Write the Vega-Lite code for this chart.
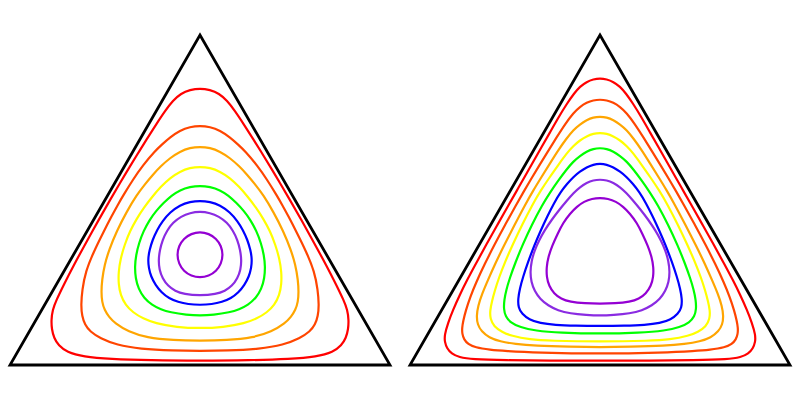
{
"$schema":"https://vega.github.io/schema/vega-lite/v6.json",
"background":"white",
"padding":{"left":4,"right":4,"top":29,"bottom":29},
"bounds":"flush",
"spacing":20,
"config":{"view":{"stroke":null}},
"data":{"values":[
{"p":"L","c":0,"x":-190,"y":0},{"p":"L","c":0,"x":190,"y":0},{"p":"L","c":0,"x":0,"y":330},
{"p":"R","c":0,"x":-190,"y":0},{"p":"R","c":0,"x":190,"y":0},{"p":"R","c":0,"x":0,"y":330},
{"p":"L","c":1,"x":0,"y":276.7},{"p":"L","c":1,"x":-10,"y":275.2},{"p":"L","c":1,"x":-19,"y":271.5},{"p":"L","c":1,"x":-27,"y":264.5},{"p":"L","c":1,"x":-35,"y":254},{"p":"L","c":1,"x":-43.6,"y":241},{"p":"L","c":1,"x":-53.2,"y":226},{"p":"L","c":1,"x":-62.8,"y":210.5},{"p":"L","c":1,"x":-72.2,"y":195},{"p":"L","c":1,"x":-79.4,"y":183},{"p":"L","c":1,"x":-90,"y":165},{"p":"L","c":1,"x":-101.4,"y":145},{"p":"L","c":1,"x":-115.3,"y":120},{"p":"L","c":1,"x":-126.1,"y":100},{"p":"L","c":1,"x":-136.4,"y":80},{"p":"L","c":1,"x":-143.6,"y":65},{"p":"L","c":1,"x":-147.5,"y":55},{"p":"L","c":1,"x":-148.7,"y":45},{"p":"L","c":1,"x":-148.3,"y":36},{"p":"L","c":1,"x":-146,"y":27},{"p":"L","c":1,"x":-141.5,"y":19.5},{"p":"L","c":1,"x":-133.3,"y":13},{"p":"L","c":1,"x":-116.7,"y":8.3},{"p":"L","c":1,"x":-90,"y":6},{"p":"L","c":1,"x":-50,"y":4.7},{"p":"L","c":1,"x":0,"y":4.3},{"p":"L","c":1,"x":50,"y":4.7},{"p":"L","c":1,"x":90,"y":6},{"p":"L","c":1,"x":116.7,"y":8.3},{"p":"L","c":1,"x":133.3,"y":13},{"p":"L","c":1,"x":141.5,"y":19.5},{"p":"L","c":1,"x":146,"y":27},{"p":"L","c":1,"x":148.3,"y":36},{"p":"L","c":1,"x":148.7,"y":45},{"p":"L","c":1,"x":147.5,"y":55},{"p":"L","c":1,"x":143.6,"y":65},{"p":"L","c":1,"x":136.4,"y":80},{"p":"L","c":1,"x":126.1,"y":100},{"p":"L","c":1,"x":115.3,"y":120},{"p":"L","c":1,"x":101.4,"y":145},{"p":"L","c":1,"x":90,"y":165},{"p":"L","c":1,"x":79.4,"y":183},{"p":"L","c":1,"x":72.2,"y":195},{"p":"L","c":1,"x":62.8,"y":210.5},{"p":"L","c":1,"x":53.2,"y":226},{"p":"L","c":1,"x":43.6,"y":241},{"p":"L","c":1,"x":35,"y":254},{"p":"L","c":1,"x":27,"y":264.5},{"p":"L","c":1,"x":19,"y":271.5},{"p":"L","c":1,"x":10,"y":275.2},
{"p":"L","c":2,"x":0,"y":239.3},{"p":"L","c":2,"x":-10,"y":238.2},{"p":"L","c":2,"x":-20,"y":234.5},{"p":"L","c":2,"x":-30,"y":227.7},{"p":"L","c":2,"x":-38,"y":220.5},{"p":"L","c":2,"x":-45,"y":214},{"p":"L","c":2,"x":-56.9,"y":200},{"p":"L","c":2,"x":-67.3,"y":185},{"p":"L","c":2,"x":-76.5,"y":170},{"p":"L","c":2,"x":-82.3,"y":160},{"p":"L","c":2,"x":-88.3,"y":149},{"p":"L","c":2,"x":-96.4,"y":133.3},{"p":"L","c":2,"x":-106.3,"y":113.3},{"p":"L","c":2,"x":-114.5,"y":93.3},{"p":"L","c":2,"x":-117.8,"y":75},{"p":"L","c":2,"x":-119,"y":60},{"p":"L","c":2,"x":-118,"y":49},{"p":"L","c":2,"x":-115,"y":40},{"p":"L","c":2,"x":-110,"y":33.5},{"p":"L","c":2,"x":-100,"y":26.7},{"p":"L","c":2,"x":-83.3,"y":20},{"p":"L","c":2,"x":-60,"y":16},{"p":"L","c":2,"x":-26.7,"y":14.3},{"p":"L","c":2,"x":0,"y":14},{"p":"L","c":2,"x":26.7,"y":14.3},{"p":"L","c":2,"x":60,"y":16},{"p":"L","c":2,"x":83.3,"y":20},{"p":"L","c":2,"x":100,"y":26.7},{"p":"L","c":2,"x":110,"y":33.5},{"p":"L","c":2,"x":115,"y":40},{"p":"L","c":2,"x":118,"y":49},{"p":"L","c":2,"x":119,"y":60},{"p":"L","c":2,"x":117.8,"y":75},{"p":"L","c":2,"x":114.5,"y":93.3},{"p":"L","c":2,"x":106.3,"y":113.3},{"p":"L","c":2,"x":96.4,"y":133.3},{"p":"L","c":2,"x":88.3,"y":149},{"p":"L","c":2,"x":82.3,"y":160},{"p":"L","c":2,"x":76.5,"y":170},{"p":"L","c":2,"x":67.3,"y":185},{"p":"L","c":2,"x":56.9,"y":200},{"p":"L","c":2,"x":45,"y":214},{"p":"L","c":2,"x":38,"y":220.5},{"p":"L","c":2,"x":30,"y":227.7},{"p":"L","c":2,"x":20,"y":234.5},{"p":"L","c":2,"x":10,"y":238.2},
{"p":"L","c":3,"x":0,"y":218.3},{"p":"L","c":3,"x":-10,"y":217.3},{"p":"L","c":3,"x":-20,"y":213.5},{"p":"L","c":3,"x":-30,"y":207},{"p":"L","c":3,"x":-39,"y":199},{"p":"L","c":3,"x":-47,"y":190.5},{"p":"L","c":3,"x":-55,"y":180.8},{"p":"L","c":3,"x":-63.3,"y":170},{"p":"L","c":3,"x":-73.3,"y":153.3},{"p":"L","c":3,"x":-83.3,"y":134},{"p":"L","c":3,"x":-91,"y":115},{"p":"L","c":3,"x":-95.5,"y":100},{"p":"L","c":3,"x":-98,"y":85},{"p":"L","c":3,"x":-98.7,"y":73},{"p":"L","c":3,"x":-98,"y":63},{"p":"L","c":3,"x":-95.5,"y":55},{"p":"L","c":3,"x":-91,"y":48},{"p":"L","c":3,"x":-85,"y":41.7},{"p":"L","c":3,"x":-71.7,"y":33.3},{"p":"L","c":3,"x":-53.3,"y":27.3},{"p":"L","c":3,"x":-26.7,"y":24.7},{"p":"L","c":3,"x":0,"y":24.3},{"p":"L","c":3,"x":26.7,"y":24.7},{"p":"L","c":3,"x":53.3,"y":27.3},{"p":"L","c":3,"x":71.7,"y":33.3},{"p":"L","c":3,"x":85,"y":41.7},{"p":"L","c":3,"x":91,"y":48},{"p":"L","c":3,"x":95.5,"y":55},{"p":"L","c":3,"x":98,"y":63},{"p":"L","c":3,"x":98.7,"y":73},{"p":"L","c":3,"x":98,"y":85},{"p":"L","c":3,"x":95.5,"y":100},{"p":"L","c":3,"x":91,"y":115},{"p":"L","c":3,"x":83.3,"y":134},{"p":"L","c":3,"x":73.3,"y":153.3},{"p":"L","c":3,"x":63.3,"y":170},{"p":"L","c":3,"x":55,"y":180.8},{"p":"L","c":3,"x":47,"y":190.5},{"p":"L","c":3,"x":39,"y":199},{"p":"L","c":3,"x":30,"y":207},{"p":"L","c":3,"x":20,"y":213.5},{"p":"L","c":3,"x":10,"y":217.3},
{"p":"L","c":4,"x":0,"y":198.3},{"p":"L","c":4,"x":-10,"y":197.3},{"p":"L","c":4,"x":-20,"y":193.5},{"p":"L","c":4,"x":-30,"y":187},{"p":"L","c":4,"x":-39,"y":178.5},{"p":"L","c":4,"x":-48,"y":168},{"p":"L","c":4,"x":-56,"y":157.5},{"p":"L","c":4,"x":-63.5,"y":146},{"p":"L","c":4,"x":-70,"y":134},{"p":"L","c":4,"x":-75.5,"y":120},{"p":"L","c":4,"x":-79.5,"y":106},{"p":"L","c":4,"x":-81.5,"y":93},{"p":"L","c":4,"x":-81.5,"y":81},{"p":"L","c":4,"x":-79.5,"y":70},{"p":"L","c":4,"x":-74.5,"y":60},{"p":"L","c":4,"x":-67,"y":52.5},{"p":"L","c":4,"x":-57,"y":46.5},{"p":"L","c":4,"x":-45,"y":41.8},{"p":"L","c":4,"x":-23.3,"y":37.7},{"p":"L","c":4,"x":0,"y":36.7},{"p":"L","c":4,"x":23.3,"y":37.7},{"p":"L","c":4,"x":45,"y":41.8},{"p":"L","c":4,"x":57,"y":46.5},{"p":"L","c":4,"x":67,"y":52.5},{"p":"L","c":4,"x":74.5,"y":60},{"p":"L","c":4,"x":79.5,"y":70},{"p":"L","c":4,"x":81.5,"y":81},{"p":"L","c":4,"x":81.5,"y":93},{"p":"L","c":4,"x":79.5,"y":106},{"p":"L","c":4,"x":75.5,"y":120},{"p":"L","c":4,"x":70,"y":134},{"p":"L","c":4,"x":63.5,"y":146},{"p":"L","c":4,"x":56,"y":157.5},{"p":"L","c":4,"x":48,"y":168},{"p":"L","c":4,"x":39,"y":178.5},{"p":"L","c":4,"x":30,"y":187},{"p":"L","c":4,"x":20,"y":193.5},{"p":"L","c":4,"x":10,"y":197.3},
{"p":"L","c":5,"x":0,"y":179.3},{"p":"L","c":5,"x":-10,"y":178.2},{"p":"L","c":5,"x":-20,"y":175},{"p":"L","c":5,"x":-28.5,"y":169.5},{"p":"L","c":5,"x":-36.5,"y":162},{"p":"L","c":5,"x":-44,"y":154},{"p":"L","c":5,"x":-50.5,"y":145},{"p":"L","c":5,"x":-56.5,"y":134},{"p":"L","c":5,"x":-61,"y":122},{"p":"L","c":5,"x":-64,"y":110},{"p":"L","c":5,"x":-65.2,"y":98.3},{"p":"L","c":5,"x":-64.5,"y":87},{"p":"L","c":5,"x":-61.5,"y":76},{"p":"L","c":5,"x":-56,"y":67},{"p":"L","c":5,"x":-48,"y":60},{"p":"L","c":5,"x":-39,"y":55.5},{"p":"L","c":5,"x":-30,"y":52.7},{"p":"L","c":5,"x":-13.3,"y":50},{"p":"L","c":5,"x":0,"y":49.3},{"p":"L","c":5,"x":13.3,"y":50},{"p":"L","c":5,"x":30,"y":52.7},{"p":"L","c":5,"x":39,"y":55.5},{"p":"L","c":5,"x":48,"y":60},{"p":"L","c":5,"x":56,"y":67},{"p":"L","c":5,"x":61.5,"y":76},{"p":"L","c":5,"x":64.5,"y":87},{"p":"L","c":5,"x":65.2,"y":98.3},{"p":"L","c":5,"x":64,"y":110},{"p":"L","c":5,"x":61,"y":122},{"p":"L","c":5,"x":56.5,"y":134},{"p":"L","c":5,"x":50.5,"y":145},{"p":"L","c":5,"x":44,"y":154},{"p":"L","c":5,"x":36.5,"y":162},{"p":"L","c":5,"x":28.5,"y":169.5},{"p":"L","c":5,"x":20,"y":175},{"p":"L","c":5,"x":10,"y":178.2},
{"p":"L","c":6,"x":0,"y":164.3},{"p":"L","c":6,"x":-10,"y":163.2},{"p":"L","c":6,"x":-20,"y":160},{"p":"L","c":6,"x":-30,"y":152.7},{"p":"L","c":6,"x":-37.5,"y":144},{"p":"L","c":6,"x":-43,"y":135},{"p":"L","c":6,"x":-47.5,"y":125},{"p":"L","c":6,"x":-50.5,"y":115},{"p":"L","c":6,"x":-52,"y":106},{"p":"L","c":6,"x":-51.3,"y":97},{"p":"L","c":6,"x":-49,"y":88.5},{"p":"L","c":6,"x":-44.5,"y":80},{"p":"L","c":6,"x":-38.5,"y":72.5},{"p":"L","c":6,"x":-31,"y":66.7},{"p":"L","c":6,"x":-22,"y":63},{"p":"L","c":6,"x":-12,"y":60.7},{"p":"L","c":6,"x":0,"y":60},{"p":"L","c":6,"x":12,"y":60.7},{"p":"L","c":6,"x":22,"y":63},{"p":"L","c":6,"x":31,"y":66.7},{"p":"L","c":6,"x":38.5,"y":72.5},{"p":"L","c":6,"x":44.5,"y":80},{"p":"L","c":6,"x":49,"y":88.5},{"p":"L","c":6,"x":51.3,"y":97},{"p":"L","c":6,"x":52,"y":106},{"p":"L","c":6,"x":50.5,"y":115},{"p":"L","c":6,"x":47.5,"y":125},{"p":"L","c":6,"x":43,"y":135},{"p":"L","c":6,"x":37.5,"y":144},{"p":"L","c":6,"x":30,"y":152.7},{"p":"L","c":6,"x":20,"y":160},{"p":"L","c":6,"x":10,"y":163.2},
{"p":"L","c":7,"x":0,"y":153.5},{"p":"L","c":7,"x":-10,"y":152.2},{"p":"L","c":7,"x":-19,"y":148.5},{"p":"L","c":7,"x":-27,"y":142.5},{"p":"L","c":7,"x":-33,"y":134.5},{"p":"L","c":7,"x":-37.5,"y":125},{"p":"L","c":7,"x":-40.2,"y":115},{"p":"L","c":7,"x":-41.5,"y":105},{"p":"L","c":7,"x":-40.7,"y":95.5},{"p":"L","c":7,"x":-37.5,"y":86.5},{"p":"L","c":7,"x":-32,"y":79},{"p":"L","c":7,"x":-25,"y":74},{"p":"L","c":7,"x":-16,"y":70.8},{"p":"L","c":7,"x":0,"y":69.4},{"p":"L","c":7,"x":16,"y":70.8},{"p":"L","c":7,"x":25,"y":74},{"p":"L","c":7,"x":32,"y":79},{"p":"L","c":7,"x":37.5,"y":86.5},{"p":"L","c":7,"x":40.7,"y":95.5},{"p":"L","c":7,"x":41.5,"y":105},{"p":"L","c":7,"x":40.2,"y":115},{"p":"L","c":7,"x":37.5,"y":125},{"p":"L","c":7,"x":33,"y":134.5},{"p":"L","c":7,"x":27,"y":142.5},{"p":"L","c":7,"x":19,"y":148.5},{"p":"L","c":7,"x":10,"y":152.2},
{"p":"L","c":8,"x":0,"y":133.2},{"p":"L","c":8,"x":-8.8,"y":131.4},{"p":"L","c":8,"x":-16.3,"y":126.5},{"p":"L","c":8,"x":-21.3,"y":119},{"p":"L","c":8,"x":-23,"y":110.2},{"p":"L","c":8,"x":-21.3,"y":101.4},{"p":"L","c":8,"x":-16.3,"y":93.9},{"p":"L","c":8,"x":-8.8,"y":89},{"p":"L","c":8,"x":0,"y":87.2},{"p":"L","c":8,"x":8.8,"y":89},{"p":"L","c":8,"x":16.3,"y":93.9},{"p":"L","c":8,"x":21.3,"y":101.4},{"p":"L","c":8,"x":23,"y":110.2},{"p":"L","c":8,"x":21.3,"y":119},{"p":"L","c":8,"x":16.3,"y":126.5},{"p":"L","c":8,"x":8.8,"y":131.4},
{"p":"R","c":1,"x":0,"y":286.7},{"p":"R","c":1,"x":-6.7,"y":285.7},{"p":"R","c":1,"x":-13.3,"y":283.2},{"p":"R","c":1,"x":-20,"y":278.5},{"p":"R","c":1,"x":-26,"y":271.5},{"p":"R","c":1,"x":-33,"y":261.5},{"p":"R","c":1,"x":-41,"y":248.5},{"p":"R","c":1,"x":-50.1,"y":232.5},{"p":"R","c":1,"x":-58.7,"y":217.5},{"p":"R","c":1,"x":-67.2,"y":202.5},{"p":"R","c":1,"x":-75.7,"y":187.5},{"p":"R","c":1,"x":-83.4,"y":174},{"p":"R","c":1,"x":-91.4,"y":160},{"p":"R","c":1,"x":-102.7,"y":140},{"p":"R","c":1,"x":-113.9,"y":120},{"p":"R","c":1,"x":-124.3,"y":101},{"p":"R","c":1,"x":-132.9,"y":85},{"p":"R","c":1,"x":-140.3,"y":70},{"p":"R","c":1,"x":-147,"y":55},{"p":"R","c":1,"x":-152,"y":42},{"p":"R","c":1,"x":-155.5,"y":30},{"p":"R","c":1,"x":-155.3,"y":23},{"p":"R","c":1,"x":-153,"y":16.5},{"p":"R","c":1,"x":-148.5,"y":11.3},{"p":"R","c":1,"x":-141,"y":7.8},{"p":"R","c":1,"x":-128,"y":5.6},{"p":"R","c":1,"x":-95,"y":4.7},{"p":"R","c":1,"x":-50,"y":4.4},{"p":"R","c":1,"x":0,"y":4.3},{"p":"R","c":1,"x":50,"y":4.4},{"p":"R","c":1,"x":95,"y":4.7},{"p":"R","c":1,"x":128,"y":5.6},{"p":"R","c":1,"x":141,"y":7.8},{"p":"R","c":1,"x":148.5,"y":11.3},{"p":"R","c":1,"x":153,"y":16.5},{"p":"R","c":1,"x":155.3,"y":23},{"p":"R","c":1,"x":155.5,"y":30},{"p":"R","c":1,"x":152,"y":42},{"p":"R","c":1,"x":147,"y":55},{"p":"R","c":1,"x":140.3,"y":70},{"p":"R","c":1,"x":132.9,"y":85},{"p":"R","c":1,"x":124.3,"y":101},{"p":"R","c":1,"x":113.9,"y":120},{"p":"R","c":1,"x":102.7,"y":140},{"p":"R","c":1,"x":91.4,"y":160},{"p":"R","c":1,"x":83.4,"y":174},{"p":"R","c":1,"x":75.7,"y":187.5},{"p":"R","c":1,"x":67.2,"y":202.5},{"p":"R","c":1,"x":58.7,"y":217.5},{"p":"R","c":1,"x":50.1,"y":232.5},{"p":"R","c":1,"x":41,"y":248.5},{"p":"R","c":1,"x":33,"y":261.5},{"p":"R","c":1,"x":26,"y":271.5},{"p":"R","c":1,"x":20,"y":278.5},{"p":"R","c":1,"x":13.3,"y":283.2},{"p":"R","c":1,"x":6.7,"y":285.7},
{"p":"R","c":2,"x":0,"y":265.5},{"p":"R","c":2,"x":-6.7,"y":264.8},{"p":"R","c":2,"x":-13.3,"y":262.5},{"p":"R","c":2,"x":-20,"y":258.3},{"p":"R","c":2,"x":-26.7,"y":252},{"p":"R","c":2,"x":-34.5,"y":241.5},{"p":"R","c":2,"x":-43.5,"y":227.5},{"p":"R","c":2,"x":-52.8,"y":212.5},{"p":"R","c":2,"x":-61.4,"y":198.5},{"p":"R","c":2,"x":-69.2,"y":185.5},{"p":"R","c":2,"x":-76.8,"y":172.5},{"p":"R","c":2,"x":-83.9,"y":160},{"p":"R","c":2,"x":-95,"y":140},{"p":"R","c":2,"x":-105.7,"y":120},{"p":"R","c":2,"x":-115.3,"y":101},{"p":"R","c":2,"x":-123.7,"y":83},{"p":"R","c":2,"x":-129.8,"y":68},{"p":"R","c":2,"x":-134.4,"y":54},{"p":"R","c":2,"x":-136.8,"y":44},{"p":"R","c":2,"x":-138,"y":37},{"p":"R","c":2,"x":-137.8,"y":31},{"p":"R","c":2,"x":-136,"y":25.5},{"p":"R","c":2,"x":-132,"y":21},{"p":"R","c":2,"x":-125,"y":17.5},{"p":"R","c":2,"x":-110,"y":15.2},{"p":"R","c":2,"x":-95,"y":14},{"p":"R","c":2,"x":-63,"y":12.4},{"p":"R","c":2,"x":0,"y":11.2},{"p":"R","c":2,"x":63,"y":12.4},{"p":"R","c":2,"x":95,"y":14},{"p":"R","c":2,"x":110,"y":15.2},{"p":"R","c":2,"x":125,"y":17.5},{"p":"R","c":2,"x":132,"y":21},{"p":"R","c":2,"x":136,"y":25.5},{"p":"R","c":2,"x":137.8,"y":31},{"p":"R","c":2,"x":138,"y":37},{"p":"R","c":2,"x":136.8,"y":44},{"p":"R","c":2,"x":134.4,"y":54},{"p":"R","c":2,"x":129.8,"y":68},{"p":"R","c":2,"x":123.7,"y":83},{"p":"R","c":2,"x":115.3,"y":101},{"p":"R","c":2,"x":105.7,"y":120},{"p":"R","c":2,"x":95,"y":140},{"p":"R","c":2,"x":83.9,"y":160},{"p":"R","c":2,"x":76.8,"y":172.5},{"p":"R","c":2,"x":69.2,"y":185.5},{"p":"R","c":2,"x":61.4,"y":198.5},{"p":"R","c":2,"x":52.8,"y":212.5},{"p":"R","c":2,"x":43.5,"y":227.5},{"p":"R","c":2,"x":34.5,"y":241.5},{"p":"R","c":2,"x":26.7,"y":252},{"p":"R","c":2,"x":20,"y":258.3},{"p":"R","c":2,"x":13.3,"y":262.5},{"p":"R","c":2,"x":6.7,"y":264.8},
{"p":"R","c":3,"x":0,"y":248.3},{"p":"R","c":3,"x":-6.7,"y":247.7},{"p":"R","c":3,"x":-13.3,"y":245},{"p":"R","c":3,"x":-20,"y":240.7},{"p":"R","c":3,"x":-26.7,"y":235},{"p":"R","c":3,"x":-33.5,"y":226.5},{"p":"R","c":3,"x":-41.7,"y":215},{"p":"R","c":3,"x":-50,"y":201.7},{"p":"R","c":3,"x":-58.3,"y":188.3},{"p":"R","c":3,"x":-66.8,"y":174.5},{"p":"R","c":3,"x":-75,"y":160},{"p":"R","c":3,"x":-85.5,"y":140},{"p":"R","c":3,"x":-95.7,"y":120},{"p":"R","c":3,"x":-105,"y":101},{"p":"R","c":3,"x":-112,"y":85},{"p":"R","c":3,"x":-118,"y":71},{"p":"R","c":3,"x":-122,"y":59},{"p":"R","c":3,"x":-123.5,"y":49},{"p":"R","c":3,"x":-122.5,"y":40.5},{"p":"R","c":3,"x":-118.5,"y":33.5},{"p":"R","c":3,"x":-111,"y":27.5},{"p":"R","c":3,"x":-100,"y":23.5},{"p":"R","c":3,"x":-85,"y":21},{"p":"R","c":3,"x":-65,"y":19.2},{"p":"R","c":3,"x":-30,"y":18.2},{"p":"R","c":3,"x":0,"y":17.8},{"p":"R","c":3,"x":30,"y":18.2},{"p":"R","c":3,"x":65,"y":19.2},{"p":"R","c":3,"x":85,"y":21},{"p":"R","c":3,"x":100,"y":23.5},{"p":"R","c":3,"x":111,"y":27.5},{"p":"R","c":3,"x":118.5,"y":33.5},{"p":"R","c":3,"x":122.5,"y":40.5},{"p":"R","c":3,"x":123.5,"y":49},{"p":"R","c":3,"x":122,"y":59},{"p":"R","c":3,"x":118,"y":71},{"p":"R","c":3,"x":112,"y":85},{"p":"R","c":3,"x":105,"y":101},{"p":"R","c":3,"x":95.7,"y":120},{"p":"R","c":3,"x":85.5,"y":140},{"p":"R","c":3,"x":75,"y":160},{"p":"R","c":3,"x":66.8,"y":174.5},{"p":"R","c":3,"x":58.3,"y":188.3},{"p":"R","c":3,"x":50,"y":201.7},{"p":"R","c":3,"x":41.7,"y":215},{"p":"R","c":3,"x":33.5,"y":226.5},{"p":"R","c":3,"x":26.7,"y":235},{"p":"R","c":3,"x":20,"y":240.7},{"p":"R","c":3,"x":13.3,"y":245},{"p":"R","c":3,"x":6.7,"y":247.7},
{"p":"R","c":4,"x":0,"y":232},{"p":"R","c":4,"x":-6.7,"y":231.4},{"p":"R","c":4,"x":-13.3,"y":228.8},{"p":"R","c":4,"x":-20,"y":224.8},{"p":"R","c":4,"x":-26.7,"y":219},{"p":"R","c":4,"x":-33.5,"y":211.5},{"p":"R","c":4,"x":-41.7,"y":200},{"p":"R","c":4,"x":-50.2,"y":188},{"p":"R","c":4,"x":-59.3,"y":174.5},{"p":"R","c":4,"x":-67.8,"y":160},{"p":"R","c":4,"x":-78,"y":140},{"p":"R","c":4,"x":-87.5,"y":120},{"p":"R","c":4,"x":-95,"y":103},{"p":"R","c":4,"x":-101.2,"y":87},{"p":"R","c":4,"x":-105.3,"y":74},{"p":"R","c":4,"x":-108,"y":64},{"p":"R","c":4,"x":-110,"y":54.5},{"p":"R","c":4,"x":-109.8,"y":46},{"p":"R","c":4,"x":-106,"y":38.5},{"p":"R","c":4,"x":-98,"y":33},{"p":"R","c":4,"x":-89,"y":29.2},{"p":"R","c":4,"x":-70,"y":25.4},{"p":"R","c":4,"x":-50,"y":24.2},{"p":"R","c":4,"x":0,"y":23.3},{"p":"R","c":4,"x":50,"y":24.2},{"p":"R","c":4,"x":70,"y":25.4},{"p":"R","c":4,"x":89,"y":29.2},{"p":"R","c":4,"x":98,"y":33},{"p":"R","c":4,"x":106,"y":38.5},{"p":"R","c":4,"x":109.8,"y":46},{"p":"R","c":4,"x":110,"y":54.5},{"p":"R","c":4,"x":108,"y":64},{"p":"R","c":4,"x":105.3,"y":74},{"p":"R","c":4,"x":101.2,"y":87},{"p":"R","c":4,"x":95,"y":103},{"p":"R","c":4,"x":87.5,"y":120},{"p":"R","c":4,"x":78,"y":140},{"p":"R","c":4,"x":67.8,"y":160},{"p":"R","c":4,"x":59.3,"y":174.5},{"p":"R","c":4,"x":50.2,"y":188},{"p":"R","c":4,"x":41.7,"y":200},{"p":"R","c":4,"x":33.5,"y":211.5},{"p":"R","c":4,"x":26.7,"y":219},{"p":"R","c":4,"x":20,"y":224.8},{"p":"R","c":4,"x":13.3,"y":228.8},{"p":"R","c":4,"x":6.7,"y":231.4},
{"p":"R","c":5,"x":0,"y":217},{"p":"R","c":5,"x":-6.7,"y":216.2},{"p":"R","c":5,"x":-13.3,"y":213.5},{"p":"R","c":5,"x":-20,"y":209.2},{"p":"R","c":5,"x":-26.7,"y":203.5},{"p":"R","c":5,"x":-33.5,"y":195.5},{"p":"R","c":5,"x":-41.7,"y":184.5},{"p":"R","c":5,"x":-50,"y":172.5},{"p":"R","c":5,"x":-57.8,"y":160},{"p":"R","c":5,"x":-68.3,"y":140},{"p":"R","c":5,"x":-77.5,"y":120},{"p":"R","c":5,"x":-84.8,"y":102},{"p":"R","c":5,"x":-90.2,"y":87},{"p":"R","c":5,"x":-93.8,"y":75},{"p":"R","c":5,"x":-95.8,"y":65},{"p":"R","c":5,"x":-96.3,"y":56},{"p":"R","c":5,"x":-94.5,"y":48.5},{"p":"R","c":5,"x":-89.5,"y":42.5},{"p":"R","c":5,"x":-80,"y":37.7},{"p":"R","c":5,"x":-65,"y":34.3},{"p":"R","c":5,"x":-40,"y":32.2},{"p":"R","c":5,"x":0,"y":31.2},{"p":"R","c":5,"x":40,"y":32.2},{"p":"R","c":5,"x":65,"y":34.3},{"p":"R","c":5,"x":80,"y":37.7},{"p":"R","c":5,"x":89.5,"y":42.5},{"p":"R","c":5,"x":94.5,"y":48.5},{"p":"R","c":5,"x":96.3,"y":56},{"p":"R","c":5,"x":95.8,"y":65},{"p":"R","c":5,"x":93.8,"y":75},{"p":"R","c":5,"x":90.2,"y":87},{"p":"R","c":5,"x":84.8,"y":102},{"p":"R","c":5,"x":77.5,"y":120},{"p":"R","c":5,"x":68.3,"y":140},{"p":"R","c":5,"x":57.8,"y":160},{"p":"R","c":5,"x":50,"y":172.5},{"p":"R","c":5,"x":41.7,"y":184.5},{"p":"R","c":5,"x":33.5,"y":195.5},{"p":"R","c":5,"x":26.7,"y":203.5},{"p":"R","c":5,"x":20,"y":209.2},{"p":"R","c":5,"x":13.3,"y":213.5},{"p":"R","c":5,"x":6.7,"y":216.2},
{"p":"R","c":6,"x":0,"y":201.3},{"p":"R","c":6,"x":-6.7,"y":200.5},{"p":"R","c":6,"x":-13.3,"y":197.7},{"p":"R","c":6,"x":-20,"y":193.5},{"p":"R","c":6,"x":-26.7,"y":188},{"p":"R","c":6,"x":-33,"y":181},{"p":"R","c":6,"x":-39,"y":173.5},{"p":"R","c":6,"x":-46,"y":162},{"p":"R","c":6,"x":-53,"y":148},{"p":"R","c":6,"x":-59.5,"y":134},{"p":"R","c":6,"x":-65.5,"y":120},{"p":"R","c":6,"x":-72,"y":103},{"p":"R","c":6,"x":-77,"y":88},{"p":"R","c":6,"x":-80.3,"y":76},{"p":"R","c":6,"x":-82,"y":66},{"p":"R","c":6,"x":-81.7,"y":57.5},{"p":"R","c":6,"x":-78,"y":51},{"p":"R","c":6,"x":-71,"y":45.5},{"p":"R","c":6,"x":-60,"y":41.7},{"p":"R","c":6,"x":-45,"y":40},{"p":"R","c":6,"x":-25,"y":39.3},{"p":"R","c":6,"x":0,"y":39.1},{"p":"R","c":6,"x":25,"y":39.3},{"p":"R","c":6,"x":45,"y":40},{"p":"R","c":6,"x":60,"y":41.7},{"p":"R","c":6,"x":71,"y":45.5},{"p":"R","c":6,"x":78,"y":51},{"p":"R","c":6,"x":81.7,"y":57.5},{"p":"R","c":6,"x":82,"y":66},{"p":"R","c":6,"x":80.3,"y":76},{"p":"R","c":6,"x":77,"y":88},{"p":"R","c":6,"x":72,"y":103},{"p":"R","c":6,"x":65.5,"y":120},{"p":"R","c":6,"x":59.5,"y":134},{"p":"R","c":6,"x":53,"y":148},{"p":"R","c":6,"x":46,"y":162},{"p":"R","c":6,"x":39,"y":173.5},{"p":"R","c":6,"x":33,"y":181},{"p":"R","c":6,"x":26.7,"y":188},{"p":"R","c":6,"x":20,"y":193.5},{"p":"R","c":6,"x":13.3,"y":197.7},{"p":"R","c":6,"x":6.7,"y":200.5},
{"p":"R","c":7,"x":0,"y":185.5},{"p":"R","c":7,"x":-6.7,"y":184.8},{"p":"R","c":7,"x":-13.3,"y":182.3},{"p":"R","c":7,"x":-20,"y":178},{"p":"R","c":7,"x":-26.5,"y":172},{"p":"R","c":7,"x":-33,"y":164.5},{"p":"R","c":7,"x":-40.5,"y":155.5},{"p":"R","c":7,"x":-48.5,"y":145},{"p":"R","c":7,"x":-55.5,"y":134.5},{"p":"R","c":7,"x":-61,"y":124.5},{"p":"R","c":7,"x":-65.5,"y":114.5},{"p":"R","c":7,"x":-68.5,"y":104},{"p":"R","c":7,"x":-69.8,"y":93},{"p":"R","c":7,"x":-68.8,"y":83},{"p":"R","c":7,"x":-65.5,"y":74},{"p":"R","c":7,"x":-60,"y":66},{"p":"R","c":7,"x":-52,"y":59.5},{"p":"R","c":7,"x":-42,"y":54.5},{"p":"R","c":7,"x":-30,"y":51.5},{"p":"R","c":7,"x":-13.3,"y":50},{"p":"R","c":7,"x":0,"y":49.4},{"p":"R","c":7,"x":13.3,"y":50},{"p":"R","c":7,"x":30,"y":51.5},{"p":"R","c":7,"x":42,"y":54.5},{"p":"R","c":7,"x":52,"y":59.5},{"p":"R","c":7,"x":60,"y":66},{"p":"R","c":7,"x":65.5,"y":74},{"p":"R","c":7,"x":68.8,"y":83},{"p":"R","c":7,"x":69.8,"y":93},{"p":"R","c":7,"x":68.5,"y":104},{"p":"R","c":7,"x":65.5,"y":114.5},{"p":"R","c":7,"x":61,"y":124.5},{"p":"R","c":7,"x":55.5,"y":134.5},{"p":"R","c":7,"x":48.5,"y":145},{"p":"R","c":7,"x":40.5,"y":155.5},{"p":"R","c":7,"x":33,"y":164.5},{"p":"R","c":7,"x":26.5,"y":172},{"p":"R","c":7,"x":20,"y":178},{"p":"R","c":7,"x":13.3,"y":182.3},{"p":"R","c":7,"x":6.7,"y":184.8},
{"p":"R","c":8,"x":0,"y":167.2},{"p":"R","c":8,"x":-8,"y":166.4},{"p":"R","c":8,"x":-16,"y":163.5},{"p":"R","c":8,"x":-23,"y":158.5},{"p":"R","c":8,"x":-30,"y":151.5},{"p":"R","c":8,"x":-37,"y":142},{"p":"R","c":8,"x":-42.5,"y":131},{"p":"R","c":8,"x":-48,"y":119},{"p":"R","c":8,"x":-51.7,"y":108},{"p":"R","c":8,"x":-53.5,"y":98},{"p":"R","c":8,"x":-53.4,"y":88},{"p":"R","c":8,"x":-51,"y":79},{"p":"R","c":8,"x":-46,"y":71.5},{"p":"R","c":8,"x":-39,"y":66.2},{"p":"R","c":8,"x":-30,"y":63.2},{"p":"R","c":8,"x":-15,"y":61.6},{"p":"R","c":8,"x":0,"y":61.2},{"p":"R","c":8,"x":15,"y":61.6},{"p":"R","c":8,"x":30,"y":63.2},{"p":"R","c":8,"x":39,"y":66.2},{"p":"R","c":8,"x":46,"y":71.5},{"p":"R","c":8,"x":51,"y":79},{"p":"R","c":8,"x":53.4,"y":88},{"p":"R","c":8,"x":53.5,"y":98},{"p":"R","c":8,"x":51.7,"y":108},{"p":"R","c":8,"x":48,"y":119},{"p":"R","c":8,"x":42.5,"y":131},{"p":"R","c":8,"x":37,"y":142},{"p":"R","c":8,"x":30,"y":151.5},{"p":"R","c":8,"x":23,"y":158.5},{"p":"R","c":8,"x":16,"y":163.5},{"p":"R","c":8,"x":8,"y":166.4}
]},
"hconcat":[
{"width":380,"height":330,"transform":[{"filter":"datum.p == 'L'"}],
"layer":[
{"transform":[{"filter":"datum.c == 0"}],"mark":{"type":"line","interpolate":"linear-closed","color":"black","strokeWidth":2.8,"strokeJoin":"miter"},
"encoding":{"x":{"field":"x","type":"quantitative","scale":{"domain":[-190,190],"nice":false,"zero":false},"axis":null},"y":{"field":"y","type":"quantitative","scale":{"domain":[0,330],"nice":false,"zero":false},"axis":null},"order":{"value":null}}},
{"transform":[{"filter":"datum.c > 0"}],"mark":{"type":"line","interpolate":"basis-closed","strokeWidth":2.2},
"encoding":{"x":{"field":"x","type":"quantitative","scale":{"domain":[-190,190],"nice":false,"zero":false},"axis":null},"y":{"field":"y","type":"quantitative","scale":{"domain":[0,330],"nice":false,"zero":false},"axis":null},"color":{"field":"c","type":"nominal","scale":{"domain":[1,2,3,4,5,6,7,8],"range":["#ff0000","#ff4500","#ffa500","#ffff00","#00ff00","#0000ff","#8a2be2","#9400d3"]},"legend":null},"order":{"value":null}}}
]},
{"width":380,"height":330,"transform":[{"filter":"datum.p == 'R'"}],
"layer":[
{"transform":[{"filter":"datum.c == 0"}],"mark":{"type":"line","interpolate":"linear-closed","color":"black","strokeWidth":2.8,"strokeJoin":"miter"},
"encoding":{"x":{"field":"x","type":"quantitative","scale":{"domain":[-190,190],"nice":false,"zero":false},"axis":null},"y":{"field":"y","type":"quantitative","scale":{"domain":[0,330],"nice":false,"zero":false},"axis":null},"order":{"value":null}}},
{"transform":[{"filter":"datum.c > 0"}],"mark":{"type":"line","interpolate":"basis-closed","strokeWidth":2.2},
"encoding":{"x":{"field":"x","type":"quantitative","scale":{"domain":[-190,190],"nice":false,"zero":false},"axis":null},"y":{"field":"y","type":"quantitative","scale":{"domain":[0,330],"nice":false,"zero":false},"axis":null},"color":{"field":"c","type":"nominal","scale":{"domain":[1,2,3,4,5,6,7,8],"range":["#ff0000","#ff4500","#ffa500","#ffff00","#00ff00","#0000ff","#8a2be2","#9400d3"]},"legend":null},"order":{"value":null}}}
]}
]
}
